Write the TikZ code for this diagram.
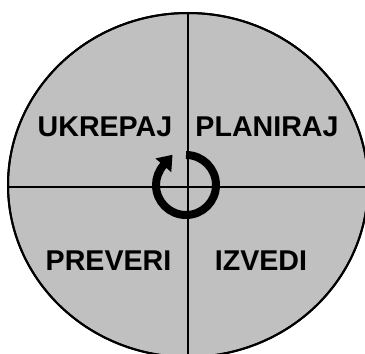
\documentclass[tikz,border=0pt]{standalone}
\usepackage{fontspec}
\setmainfont{Liberation Sans}
\usepackage{tikz}
\usetikzlibrary{arrows.meta}
\definecolor{wheelGray}{RGB}{192,192,192}
\tikzset{
  wheel/.style={draw=black, fill=wheelGray, line width=2pt},
  axis/.style={draw=black, line width=2pt},
  phase/.style={anchor=base, inner sep=0pt, font=\fontsize{28.6}{34}\selectfont\bfseries},
  cyclearrow/.style={-{Triangle[length=14pt, width=20pt]}, line width=8pt, draw=black}
}
\begin{document}
\begin{tikzpicture}[x=1pt, y=1pt]
\useasboundingbox (0,0) rectangle (365,354);
% wheel
\path[wheel] (188,169) ellipse [x radius=180, y radius=172];
\begin{scope}
  \clip (188,169) ellipse [x radius=180, y radius=172];
  \draw[axis] (0,167) -- (380,167);
  \draw[axis] (188,-10) -- (188,360);
\end{scope}
\draw[line width=2pt] (188,169) ellipse [x radius=180, y radius=172];
% phases
\node[phase] (ukrepaj) at (105,217) {UKREPAJ};
\node[phase] (planiraj) at (267,217) {PLANIRAJ};
\node[phase] (preveri) at (108.5,83) {PREVERI};
\node[phase] (izvedi) at (261,83) {IZVEDI};
% cycle
\draw[cyclearrow, shorten >=-14pt] (186,199) arc [start angle=90, end angle=-221, radius=30];
\end{tikzpicture}
\end{document}
